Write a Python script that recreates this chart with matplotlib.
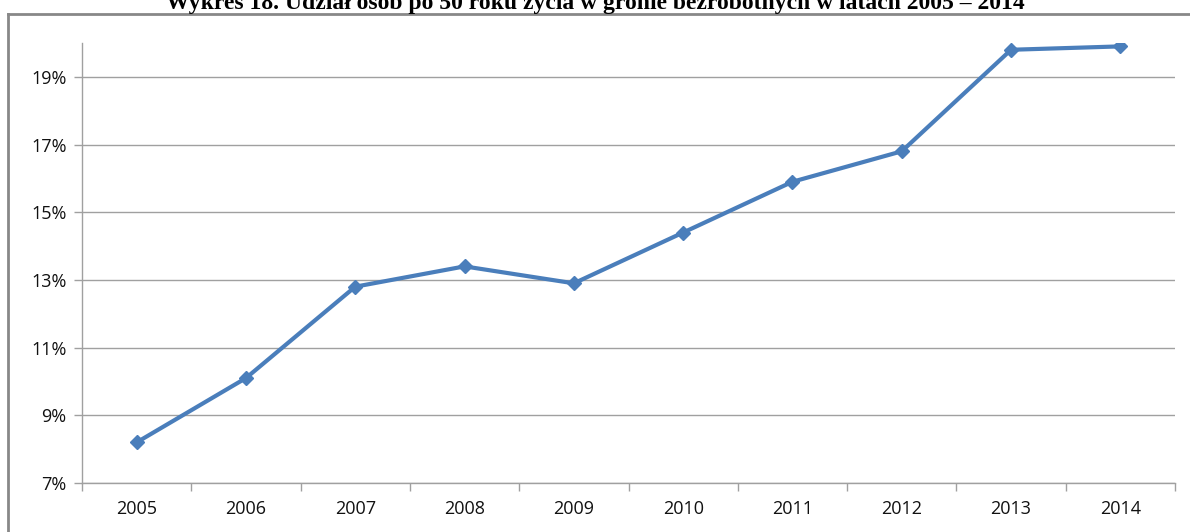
import matplotlib
matplotlib.use('Agg')
import matplotlib.pyplot as plt
from matplotlib.lines import Line2D
from matplotlib.ticker import FixedLocator, FuncFormatter
import numpy as np

years = ['2005', '2006', '2007', '2008', '2009', '2010', '2011', '2012', '2013', '2014']
share = [8.2, 10.1, 12.8, 13.4, 12.9, 14.4, 15.9, 16.8, 19.8, 19.9]
y_ticks = [7, 9, 11, 13, 15, 17, 19]
title = 'Wykres 18. Udział osób po 50 roku życia w gronie bezrobotnych w latach 2005 – 2014'

LINE = '#4a7ebb'
GREY = '#a0a0a0'

fig = plt.figure(figsize=(11.9, 5.32), dpi=100)
ax = fig.add_axes([82 / 1190, 49 / 532, 1093 / 1190, 440 / 532])

x = np.arange(len(years))
ax.plot(x, share, color=LINE, lw=3.0, marker='D', ms=7.5, zorder=3)

ax.set_xlim(-0.5, len(years) - 0.5)
ax.set_ylim(7, 20)
ax.yaxis.set_major_locator(FixedLocator(y_ticks))
ax.yaxis.set_major_formatter(FuncFormatter(lambda v, p: f'{v:.0f}%'))
ax.grid(axis='y', color=GREY, lw=1)
ax.set_axisbelow(True)

ax.set_xticks(x)
ax.set_xticklabels(years)
ax.set_xticks(np.arange(-0.5, len(years)), minor=True)
ax.tick_params(axis='x', which='major', length=0, pad=12)
ax.tick_params(axis='x', which='minor', length=6, color=GREY, width=1)
ax.tick_params(axis='y', length=6, color=GREY, width=1, pad=5)
for lab in ax.get_xticklabels() + ax.get_yticklabels():
    lab.set_fontfamily('Open Sans')
    lab.set_fontsize(13)
    lab.set_color('#111111')

for s in ['top', 'right']:
    ax.spines[s].set_visible(False)
for s in ['left', 'bottom']:
    ax.spines[s].set_color(GREY)
    ax.spines[s].set_linewidth(1)

# outer chart frame
fig.add_artist(Line2D([8 / 1190, 1], [1 - 14 / 532, 1 - 14 / 532],
                      transform=fig.transFigure, color='#888888', lw=2))
fig.add_artist(Line2D([8 / 1190, 8 / 1190], [0, 1 - 14 / 532],
                      transform=fig.transFigure, color='#888888', lw=2))

# title is partly cut at the top edge, as in the source page
fig.text(0.5, 1 - 9 / 532, title, ha='center', va='baseline',
         fontfamily='Liberation Serif', fontweight='bold', fontsize=17)

fig.savefig('out.png', dpi=100)
